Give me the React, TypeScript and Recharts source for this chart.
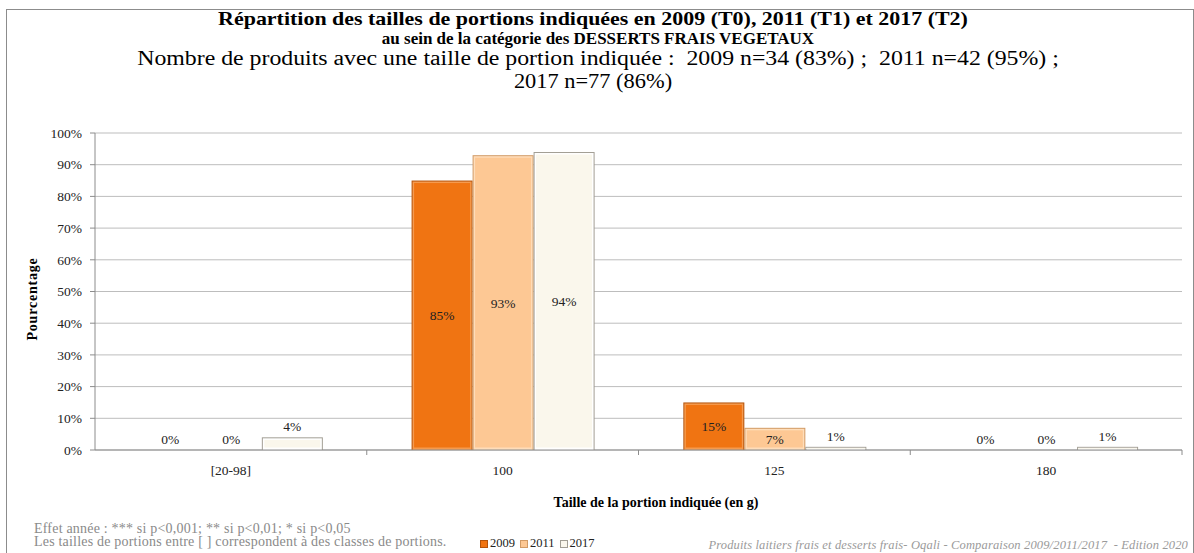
import React from 'react';
import { BarChart, Bar, XAxis, YAxis, CartesianGrid, LabelList, Legend } from 'recharts';

const categories = ['[20-98]', '100', '125', '180'];
const values2009 = [0, 85, 15, 0];
const values2011 = [0, 93, 7, 0];
const values2017 = [4, 94, 1, 1];
const yTicks = [0, 10, 20, 30, 40, 50, 60, 70, 80, 90, 100];

const seriesInfo = [
  { key: 'v2009', name: '2009', fill: '#F07412', edge: '#B4530B', light: '#F59A4E' },
  { key: 'v2011', name: '2011', fill: '#FDC894', edge: '#D29B66', light: '#FEDDBA' },
  { key: 'v2017', name: '2017', fill: '#FAF7EC', edge: '#A29E94', light: '#FFFFFF' },
];

const data = categories.map((c, i) => ({
  cat: c,
  v2009: values2009[i],
  v2011: values2011[i],
  v2017: values2017[i],
}));

const serif = '"Liberation Serif", "DejaVu Serif", serif';
const TICK_SIZE = 5;
const TICK_MARGIN = 10;

// bar with a small bevel, Excel style
const bevelBar = (fill: string, edge: string, light: string) => (props: any) => {
  const { x, y, width, height } = props;
  if (!height || height <= 0) return <g />;
  const b = Math.min(2.5, height / 3);
  return (
    <g>
      <rect x={x} y={y} width={width} height={height} fill={edge} />
      <rect x={x + 1} y={y + 1} width={width - 2} height={height - 1} fill={light} />
      <rect x={x + b} y={y + b} width={Math.max(0, width - 2 * b)} height={Math.max(0, height - 2 * b)} fill={fill} />
    </g>
  );
};

const pctLabel = (props: any) => {
  const { x, y, width, height, value } = props;
  const inside = value >= 5;
  const ty = inside ? y + height / 2 + 5 : y - 6;
  return (
    <text x={x + width / 2} y={ty} textAnchor="middle" fontSize={13.5} fontFamily={serif} fill="#222">
      {value}%
    </text>
  );
};

// category label + small tick at the right edge of each band (Excel style)
const catTick = (props: any) => {
  const { x, y, payload } = props;
  const half = payload && payload.offset ? payload.offset : 0;
  const top = y - TICK_MARGIN - TICK_SIZE;
  return (
    <g>
      <line x1={x + half} x2={x + half} y1={top} y2={top + TICK_SIZE} stroke="#8c8c8c" />
      <text x={x} y={y} dy="0.71em" textAnchor="middle" fontFamily={serif} fontSize={13.5} fill="#222">
        {payload.value}
      </text>
    </g>
  );
};

const legendContent = () => (
  <div style={{ display: 'flex', gap: 5, fontFamily: serif, fontSize: 12.5, color: '#222' }}>
    {seriesInfo.map(s => (
      <span key={s.key} style={{ display: 'flex', alignItems: 'center' }}>
        <span style={{ width: 6, height: 6, background: s.fill, border: `1px solid ${s.edge}`, marginRight: 2 }} />
        {s.name}
      </span>
    ))}
  </div>
);

export default function App() {
  return (
    <div style={{ position: 'absolute', left: 0, top: 0, width: 1194, height: 553, overflow: 'hidden', background: '#fff' }}>
      <div style={{ position: 'absolute', left: 6, top: 9, width: 1186, height: 560, border: '1px solid #8c8c8c' }} />

      <div style={{ position: 'absolute', left: 0, width: 1196, top: 9, textAlign: 'center', fontFamily: serif, color: '#000', whiteSpace: 'nowrap' }}>
        <div style={{ fontWeight: 'bold', fontSize: 19, lineHeight: '20px', transform: 'translateX(-5px) scaleX(1.155)' }}>
          Répartition des tailles de portions indiquées en 2009 (T0), 2011 (T1) et 2017 (T2)
        </div>
        <div style={{ fontWeight: 'bold', fontSize: 17, lineHeight: '19px' }}>
          au sein de la catégorie des DESSERTS FRAIS VEGETAUX
        </div>
        <div style={{ fontSize: 20, lineHeight: '21px', transform: 'scaleX(1.19)' }}>
          Nombre de produits avec une taille de portion indiquée :&nbsp; 2009 n=34 (83%) ;&nbsp; 2011 n=42 (95%) ;
        </div>
        <div style={{ fontSize: 20, lineHeight: '24px', transform: 'translateX(-5px) scaleX(1.12)' }}>2017 n=77 (86%)</div>
      </div>

      <div style={{ position: 'absolute', left: 33, top: 299, transform: 'translate(-50%, -50%) rotate(-90deg)', fontFamily: serif, fontWeight: 'bold', fontSize: 14, letterSpacing: 0.8, whiteSpace: 'nowrap' }}>
        Pourcentage
      </div>
      <div style={{ position: 'absolute', left: 0, width: 1312, top: 495, textAlign: 'center', fontFamily: serif, fontWeight: 'bold', fontSize: 14 }}>
        Taille de la portion indiquée (en g)
      </div>

      <div style={{ position: 'absolute', left: 34, top: 522, fontFamily: serif, fontSize: 14, letterSpacing: 0.2, color: '#8a8a8a', lineHeight: '13px', whiteSpace: 'nowrap' }}>
        <div>Effet année : *** si p&lt;0,001; ** si p&lt;0,01; * si p&lt;0,05</div>
        <div>Les tailles de portions entre [ ] correspondent à des classes de portions.</div>
      </div>
      <div style={{ position: 'absolute', right: 6, top: 538, fontFamily: serif, fontStyle: 'italic', fontSize: 12.5, letterSpacing: 0.15, color: '#9a9a9a', whiteSpace: 'nowrap' }}>
        Produits laitiers frais et desserts frais- Oqali - Comparaison 2009/2011/2017&nbsp; - Edition 2020
      </div>

      <div style={{ position: 'absolute', left: 0, top: 0 }}>
        <BarChart
          width={1194}
          height={553}
          data={data}
          margin={{ top: 133, right: 12, bottom: 58, left: 35 }}
          barCategoryGap="16.5%"
          barGap={0}
        >
          <CartesianGrid vertical={false} stroke="#BDBDBD" strokeWidth={1} />
          <XAxis
            dataKey="cat"
            axisLine={{ stroke: '#8c8c8c' }}
            tickLine={false}
            tickSize={TICK_SIZE}
            tickMargin={TICK_MARGIN}
            tick={catTick}
            interval={0}
            height={30}
          />
          <YAxis
            domain={[0, 100]}
            ticks={yTicks}
            tickFormatter={(v: number) => `${v}%`}
            axisLine={{ stroke: '#8c8c8c' }}
            tickLine={{ stroke: '#8c8c8c' }}
            tickSize={5}
            tickMargin={8}
            tick={{ fontFamily: serif, fontSize: 13.5, fill: '#222' }}
            width={60}
          />
          <Legend
            verticalAlign="bottom"
            content={legendContent}
            wrapperStyle={{ position: 'absolute', left: 480, top: 536, width: 'auto' }}
          />
          {seriesInfo.map(s => (
            <Bar
              key={s.key}
              dataKey={s.key}
              name={s.name}
              fill={s.fill}
              shape={bevelBar(s.fill, s.edge, s.light)}
              isAnimationActive={false}
            >
              <LabelList dataKey={s.key} content={pctLabel} />
            </Bar>
          ))}
        </BarChart>
      </div>
    </div>
  );
}
